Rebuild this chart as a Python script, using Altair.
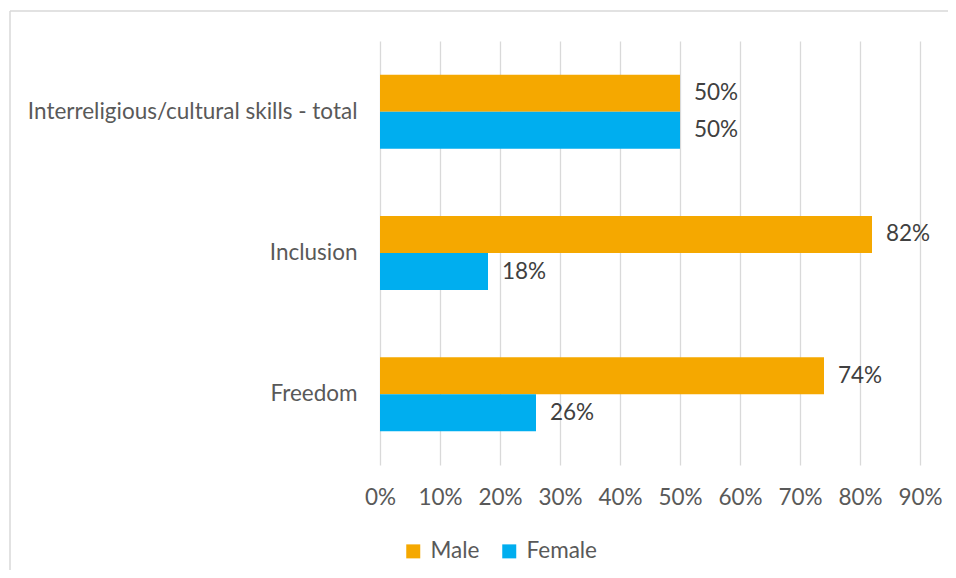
import altair as alt
import pandas as pd

categories = ["Interreligious/cultural skills - total", "Inclusion", "Freedom"]
male = [0.50, 0.82, 0.74]
female = [0.50, 0.18, 0.26]
series = ["Male", "Female"]
colors = ["#F5A800", "#00AEEF"]
ticks = [0, 0.1, 0.2, 0.3, 0.4, 0.5, 0.6, 0.7, 0.8, 0.9]

rows = []
for c, m, f in zip(categories, male, female):
    rows.append({"cat": c, "series": "Male", "value": m})
    rows.append({"cat": c, "series": "Female", "value": f})
df = pd.DataFrame(rows)

FONT = "Lato"
TXT = "#595959"
FS = 22.5

y_enc = alt.Y("cat:N", sort=categories, title=None,
              scale=alt.Scale(paddingInner=0.476, paddingOuter=0.238),
              axis=alt.Axis(labelFontSize=FS, labelColor=TXT, labelFont=FONT,
                            ticks=False, domain=False, labelPadding=23,
                            labelLimit=400))
yoff = alt.YOffset("series:N", sort=series)
x_enc = alt.X("value:Q", title=None,
              scale=alt.Scale(domain=[0, 0.9], nice=False),
              axis=alt.Axis(values=ticks, format=".0%", labelFontSize=FS,
                            labelColor=TXT, labelFont=FONT, ticks=False,
                            domain=False, labelPadding=21, grid=True,
                            gridColor="#D9D9D9", gridWidth=1.3,
                            labelFlush=False))

bars = alt.Chart(df).mark_bar().encode(
    x=x_enc, y=y_enc, yOffset=yoff,
    color=alt.Color("series:N", sort=series,
                    scale=alt.Scale(domain=series, range=colors),
                    legend=alt.Legend(title=None, orient="none", legendX=22,
                                      legendY=499, direction="horizontal",
                                      symbolType="square", symbolSize=196,
                                      symbolStrokeWidth=0, labelFontSize=FS,
                                      labelFont=FONT, labelColor=TXT,
                                      labelOffset=6, columnPadding=18)),
)

labels = alt.Chart(df).mark_text(align="left", baseline="middle", dx=14,
                                 fontSize=FS, font=FONT, color="#404040").encode(
    x="value:Q", y=alt.Y("cat:N", sort=categories), yOffset=yoff,
    text=alt.Text("value:Q", format=".0%"),
)

one = pd.DataFrame({"a": [0]})
border_top = alt.Chart(one).mark_rule(color="#D9D9D9", strokeWidth=1.5).encode(
    x=alt.value(-370), x2=alt.value(570), y=alt.value(-30))
border_left = alt.Chart(one).mark_rule(color="#D9D9D9", strokeWidth=1.5).encode(
    x=alt.value(-370), y=alt.value(-30), y2=alt.value(530))

chart = alt.layer(border_top, border_left, bars, labels).properties(
    width=540, height=424,
    autosize=alt.AutoSizeParams(type="none"),
    padding={"left": 372, "top": 33, "right": 28, "bottom": 105},
    background="white",
).configure_view(stroke=None)

chart.save("out.html", embed_options={"renderer": "svg", "actions": False})
